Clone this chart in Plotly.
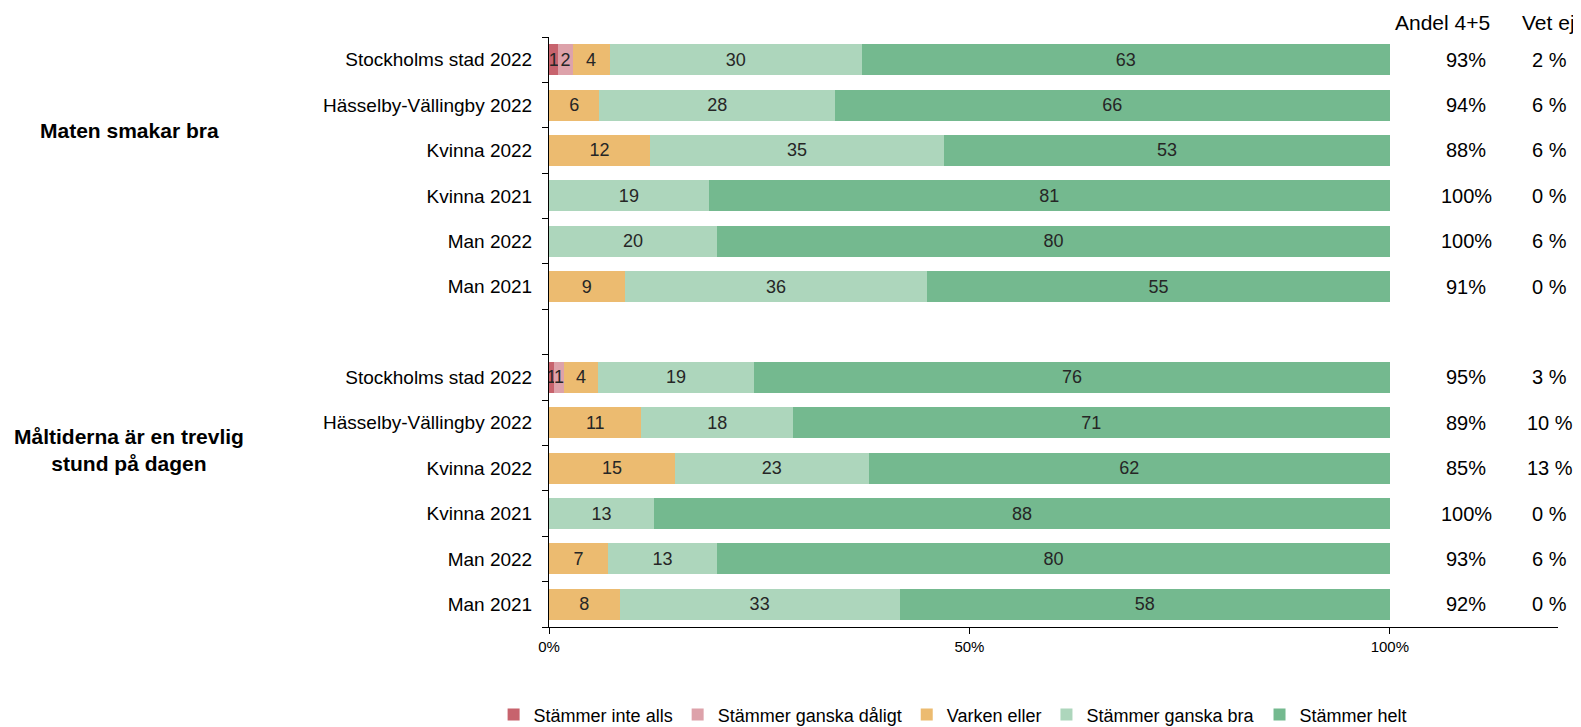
import plotly.graph_objects as go

# rows (top to bottom) per question group
groups = ["Maten smakar bra", "Måltiderna är en trevlig<br>stund på dagen"]
rows = ["Stockholms stad 2022", "Hässelby-Vällingby 2022", "Kvinna 2022",
        "Kvinna 2021", "Man 2022", "Man 2021"]

# answer categories and colours
answers = ["Stämmer inte alls", "Stämmer ganska dåligt", "Varken eller",
           "Stämmer ganska bra", "Stämmer helt"]
colors = ["#C7636D", "#DDA2AA", "#ECBB70", "#ADD6BC", "#74B98F"]

# shares (%) per answer, group 1 rows then group 2 rows
inte_alls = [1.1, 0, 0, 0, 0, 0] + [0.6, 0, 0, 0, 0, 0]
daligt = [1.7, 0, 0, 0, 0, 0] + [1.2, 0, 0, 0, 0, 0]
varken = [4.4, 6, 12, 0, 0, 9] + [4.0, 11, 15, 0, 7, 8.4]
ganska_bra = [30, 28, 35, 19, 20, 36] + [18.6, 18, 23, 12.5, 13, 33.3]
helt = [62.8, 66, 53, 81, 80, 55] + [75.6, 71, 62, 87.5, 80, 58.3]
series = [inte_alls, daligt, varken, ganska_bra, helt]

andel = ["93%", "94%", "88%", "100%", "100%", "91%",
         "95%", "89%", "85%", "100%", "93%", "92%"]
vet_ej = ["2 %", "6 %", "6 %", "0 %", "6 %", "0 %",
          "3 %", "10 %", "13 %", "0 %", "6 %", "0 %"]

FONT = "Liberation Sans, Arial, sans-serif"

# y slots: six rows, one empty slot, six rows
ypos = list(range(6)) + list(range(7, 13))
labels = rows + rows

fig = go.Figure()
for name, vals, col in zip(answers, series, colors):
    fig.add_trace(go.Bar(
        y=ypos, x=vals, name=name, orientation="h",
        marker=dict(color=col, line=dict(width=0)),
        text=[str(int(v + 0.5)) if v > 0 else "" for v in vals],
        textposition="inside", insidetextanchor="middle",
        textfont=dict(family=FONT, size=18, color="#262626"),
        hoverinfo="x+name"))

# right-hand columns
for xx, head in [(106.3, "Andel 4+5"), (118.9, "Vet ej")]:
    fig.add_annotation(x=xx, y=1.048, yref="paper", text=head, showarrow=False,
                       font=dict(family=FONT, size=21, color="black"))
for y, a, v in zip(ypos, andel, vet_ej):
    fig.add_annotation(x=109.1, y=y, text=a, showarrow=False,
                       font=dict(family=FONT, size=20, color="black"))
    fig.add_annotation(x=119.0, y=y, text=v, showarrow=False,
                       font=dict(family=FONT, size=20, color="black"))

# group labels at left
for g, gy in zip(groups, [1.55, 8.6]):
    fig.add_annotation(x=-0.416, xref="paper", y=gy, text=f"<b>{g}</b>",
                       showarrow=False, xanchor="center",
                       font=dict(family=FONT, size=21, color="black"))

# the page body adds an 8px offset, so the figure is 8px smaller
fig.update_layout(
    barmode="stack", bargap=0.32,
    width=1573, height=719,
    margin=dict(l=541, r=23, t=29, b=100, autoexpand=False),
    plot_bgcolor="white", paper_bgcolor="white",
    font=dict(family=FONT, color="black"),
    uniformtext=dict(minsize=18, mode="show"),
    legend=dict(orientation="h", x=0.40, xanchor="center", y=0.017,
                yref="container", yanchor="middle",
                font=dict(family=FONT, size=18),
                traceorder="normal", itemwidth=30),
    xaxis=dict(range=[0, 120], tickvals=[0, 50, 100],
               ticktext=["0%", "50%", "100%"], ticks="outside", ticklen=6,
               tickcolor="black", showline=True, linecolor="black",
               showgrid=False, zeroline=False, automargin=False,
               tickfont=dict(family=FONT, size=15)),
    yaxis=dict(range=[12.5, -0.5], tickvals=ypos, ticktext=labels,
               ticks="outside", ticklen=12, tickcolor="rgba(0,0,0,0)",
               minor=dict(tickmode="array",
                          tickvals=[i - 0.5 for i in range(14)],
                          ticks="outside", ticklen=6, tickcolor="black"),
               showline=True, linecolor="black", showgrid=False,
               zeroline=False, automargin=False,
               tickfont=dict(family=FONT, size=19)),
)

fig.write_html("out.html")
